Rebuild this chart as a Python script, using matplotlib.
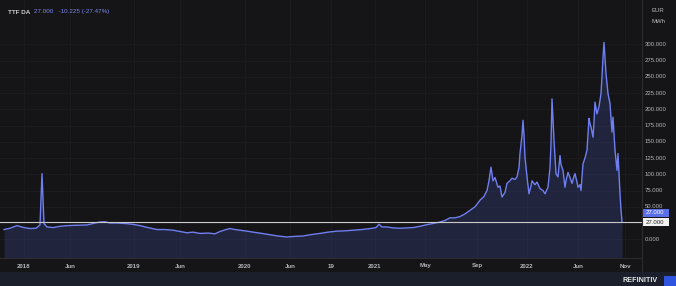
import matplotlib
matplotlib.use("Agg")
import matplotlib.pyplot as plt
import numpy as np

# ---- data (bar index along the compressed time axis, price in EUR/MWh) ----
bar = [4, 10, 17, 24, 30, 36, 40, 42, 44, 47, 53, 60, 67, 75, 87, 95, 100, 105, 110, 118,
       127, 133, 140, 148, 157, 165, 173, 180, 187, 193, 200, 208, 215,
       220, 226, 230, 235, 240, 247, 253, 260, 270, 278, 287, 295, 303, 310, 320, 328, 337,
       345, 353, 362, 370, 376, 379, 382, 387, 393, 400, 407, 413, 420, 427, 432, 437,
       440, 445, 450, 455, 460, 465, 470, 475, 480, 484, 487, 489, 491, 493, 495, 498, 500,
       502, 505, 507, 510, 512, 515, 517, 519, 520, 522, 523, 524, 525, 527, 529, 531, 532,
       535, 537, 540, 543, 545, 548,
       550, 551, 552, 553, 554, 556, 558, 560, 561, 563, 565, 566, 568, 570, 572, 574, 575,
       577, 578, 580, 581, 583, 585, 587, 589, 590, 591, 593, 594, 595, 597, 599, 601, 602,
       603, 604, 605, 606, 608, 610, 612, 613, 615, 617, 618, 620, 621, 622]
price = [15, 17, 21, 18, 16.5, 17, 22, 101, 24, 19, 18, 20, 21, 21.5, 22, 25, 26.6, 27, 25, 25,
         24, 23, 21, 18, 15, 15, 14, 12, 10, 11, 9, 9.5, 8.5,
         12, 15, 16.5, 15, 14, 12.5, 11, 9.5, 7, 5, 3.5, 4.5, 5, 7, 9, 11, 12.5,
         13, 14, 15, 16.5, 18, 23, 19, 19, 17.5, 17, 17.5, 18, 20, 22.5, 24, 25.5,
         26.6, 29, 33, 33, 35, 39, 44.6, 50, 60, 66, 75, 90, 111, 90, 95, 80, 82,
         65, 72, 86, 90, 94, 92, 96, 110, 132, 160, 183, 160, 126, 96, 70, 82, 90,
         84, 88, 78, 75, 70, 80,
         110, 147, 216, 185, 152, 101, 96, 129, 115, 106, 80, 90, 103, 95, 86, 97, 101,
         88, 80, 84, 75, 116, 125, 137, 186, 178, 173, 157, 180, 211, 193, 204, 224, 250,
         280, 303, 280, 255, 224, 209, 165, 188, 137, 106, 132, 70, 45, 27]

tick_bar = [24, 70, 134, 180, 245, 290, 331, 375, 425, 477, 527, 578, 625]
tick_lab = ["2018", "Jun", "2019", "Jun", "2020", "Jun", "19", "2021", "May", "Sep",
            "2022", "Jun", "Nov"]
y_ticks = [0, 25, 50, 75, 100, 125, 150, 175, 200, 225, 250, 275, 300]
y_show = [0, 50, 75, 100, 125, 150, 175, 200, 225, 250, 275, 300]
last_price = 27.0
change = -10.225
change_pct = -27.47

# ---- styling ----
BG = "#151517"
LINE = "#6f7ff2"
W, H = 676, 286
fig = plt.figure(figsize=(W / 100, H / 100), dpi=100, facecolor=BG)

ax_left, ax_right, ax_top, ax_bot = 0, 642, 0, 258
ax = fig.add_axes([ax_left / W, 1 - ax_bot / H, (ax_right - ax_left) / W, (ax_bot - ax_top) / H])
ax.set_facecolor(BG)
ax.set_xlim(0, 642)
ax.set_ylim(-28.8, 368.2)

for t in tick_bar:
    ax.axvline(t, color="#1d1d20", lw=0.6, zorder=0)
for v in y_ticks:
    ax.axhline(v, color="#1d1d20", lw=0.6, zorder=0)

ax.fill_between(bar, price, -28.8, color="#3a4490", alpha=0.32, lw=0, zorder=1)
ax.plot(bar, price, color=LINE, lw=1.0, zorder=3)
ax.axhline(last_price, color="#c9c9c9", lw=0.8, zorder=4)

for s in ax.spines.values():
    s.set_visible(False)
ax.set_xticks([])
ax.set_yticks([])

# bottom band separator and right separator
fig.add_artist(plt.Line2D([0, 642 / W], [1 - 258 / H] * 2, color="#2c2c30", lw=0.8))
fig.add_artist(plt.Line2D([642 / W] * 2, [1 - 272 / H, 1], color="#2c2c30", lw=0.8))

# footer
fig.add_artist(plt.Rectangle((0, 0), 1, 14 / H, color="#1b1f2c", lw=0))
fig.text(658 / W, 1 - 280.5 / H, "REFINITIV", color="#e6e6e6", fontsize=5.2,
         family="Liberation Sans", ha="right", va="center", weight="bold")
fig.add_artist(plt.Rectangle((664 / W, 0), 14 / W, 10 / H, color="#2f55e0", lw=0))

FONT = "Liberation Sans"
# x labels
for t, lab in zip(tick_bar, tick_lab):
    fig.text(t / W, 1 - 266 / H, lab, color="#b4b6bc", fontsize=4.4, family=FONT,
             ha="center", va="center", weight="bold")

# y labels (right)
for v in y_show:
    ypix = 239.3 - v * 0.65
    fig.text(645 / W, 1 - ypix / H, f"{v:.3f}", color="#b4b6bb", fontsize=4.3,
             family=FONT, ha="left", va="center")
fig.text(658 / W, 1 - 11 / H, "EUR", color="#b4b6bb", fontsize=4.3, family=FONT,
         ha="center", va="center")
fig.text(659 / W, 1 - 21.5 / H, "MWh", color="#b4b6bb", fontsize=4.3, family=FONT,
         ha="center", va="center")

# price labels
fig.add_artist(plt.Rectangle((643 / W, 1 - 217 / H), 26 / W, 8 / H, color="#5a6ee6", lw=0))
fig.text(645.5 / W, 1 - 213 / H, f"{last_price:.3f}", color="#ffffff", fontsize=4.3,
         family=FONT, ha="left", va="center")
fig.add_artist(plt.Rectangle((643 / W, 1 - 226 / H), 26 / W, 8 / H, color="#f2f2f2", lw=0))
fig.text(645.5 / W, 1 - 222 / H, f"{last_price:.3f}", color="#222222", fontsize=4.3,
         family=FONT, ha="left", va="center")

# header
fig.text(8 / W, 1 - 12 / H, "TTF DA", color="#d0d0d0", fontsize=4.5, family=FONT,
         ha="left", va="center", weight="bold")
fig.text(34 / W, 1 - 12 / H, f"{last_price:.3f}   {change:.3f} ({change_pct:.2f}%)",
         color="#7a86e8", fontsize=4.5, family=FONT, ha="left", va="center")

fig.savefig("out.png", dpi=100, facecolor=BG)
